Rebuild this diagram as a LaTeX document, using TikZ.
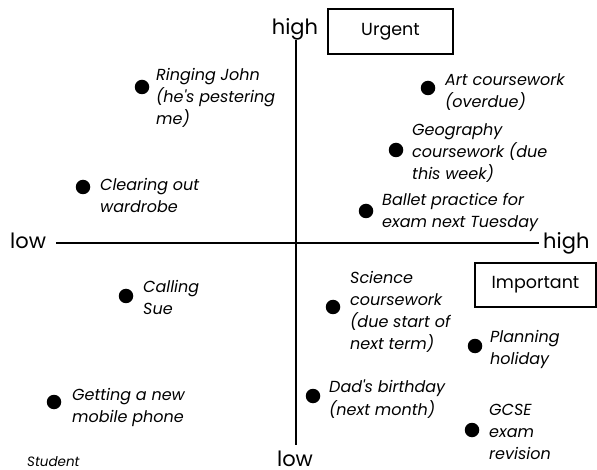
\documentclass[tikz,border=0pt]{standalone}
\usepackage{fontspec}
\setmainfont{Poppins}
\begin{document}
\begin{tikzpicture}[x=1pt,y=-1pt,
  dot/.style={circle,fill=black,inner sep=0pt,minimum size=14.5pt},
  item/.style={anchor=north west,inner sep=0pt,align=left,font=\fontsize{16}{22.2}\selectfont\itshape},
  axislbl/.style={inner sep=0pt,anchor=base,font=\fontsize{21}{24}\selectfont},
  boxlbl/.style={draw,line width=1.1pt,inner sep=0pt,font=\fontsize{17.5}{20}\selectfont},
  axis/.style={line width=1.5pt}]
\useasboundingbox (0,0) rectangle (597,470);
% axes
\coordinate (vt) at (296,40);
\coordinate (vb) at (296,445);
\coordinate (hl) at (56,243);
\coordinate (hr) at (539,243);
\draw[axis] (vt) -- (vb);
\draw[axis] (hl) -- (hr);
\node[axislbl] (hightop) at (295,35) {high};
\node[axislbl] (lowbot) at (295,466) {low};
\node[axislbl,anchor=base west] (lowleft) at (10,249) {low};
\node[axislbl,anchor=base west] (highright) at (543,249) {high};
\node[boxlbl,minimum width=125pt,minimum height=45pt] (urgent) at (390.5,31.5) {Urgent};
\node[boxlbl,minimum width=121pt,minimum height=44pt] (important) at (535.5,285) {Important};
% items
\node[dot] (d1) at (142,87) {};
\node[item] (t1) at (156,68) {Ringing John\\(he\textquotesingle s pestering\\me)};
\node[dot] (d2) at (83,187) {};
\node[item] (t2) at (100,178) {Clearing out\\wardrobe};
\node[dot] (d3) at (428,88) {};
\node[item] (t3) at (445,73) {Art coursework\\(overdue)};
\node[dot] (d4) at (396,150) {};
\node[item] (t4) at (412,123) {Geography\\coursework (due\\this week)};
\node[dot] (d5) at (366,211) {};
\node[item] (t5) at (382,193) {Ballet practice for\\exam next Tuesday};
\node[dot] (d6) at (126,296) {};
\node[item] (t6) at (143,280) {Calling\\Sue};
\node[dot] (d7) at (54,402) {};
\node[item] (t7) at (72,388) {Getting a new\\mobile phone};
\node[dot] (d8) at (333,307) {};
\node[item] (t8) at (350,271) {Science\\coursework\\(due start of\\next term)};
\node[dot] (d9) at (475,346) {};
\node[item] (t9) at (490,330) {Planning\\holiday};
\node[dot] (d10) at (313,396) {};
\node[item] (t10) at (329,380) {Dad\textquotesingle s birthday\\(next month)};
\node[dot] (d11) at (472,430) {};
\node[item] (t11) at (489,404) {GCSE\\exam\\revision};
\node[item,anchor=base west,font=\fontsize{13.5}{16}\selectfont\itshape] (student) at (27,466) {Student};
\end{tikzpicture}
\end{document}
